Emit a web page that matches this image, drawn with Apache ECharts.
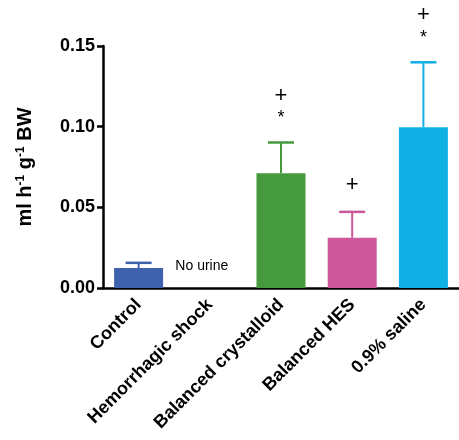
<!DOCTYPE html>
<html>
<head>
<meta charset="utf-8">
<script src="https://cdn.jsdelivr.net/npm/echarts@6/dist/echarts.min.js"></script>
<style>
  html, body { margin: 0; padding: 0; background: #fff; }
  #chart { width: 459px; height: 440px; }
</style>
</head>
<body>
<div id="chart"></div>
<script>
// Urine output per group
const groups = ['Control', 'Hemorrhagic shock', 'Balanced crystalloid', 'Balanced HES', '0.9% saline'];
const means = [0.0124, null, 0.0711, 0.0311, 0.0997];
const errTop = [0.0156, null, 0.0902, 0.0472, 0.1399];
const barColors = ['#3F61AE', '#FFFFFF', '#459A3E', '#CE5799', '#10B0E5'];
const plusMarks = ['', '', '+', '+', '+'];
const starMarks = ['', '', '*', '', '*'];
const emptyNote = ['', 'No urine', '', '', ''];
const yTicks = [0, 0.05, 0.10, 0.15];

const FONT = '"Liberation Sans", Arial, sans-serif';

const chart = echarts.init(document.getElementById('chart'));

chart.setOption({
  animation: false,
  backgroundColor: '#ffffff',
  grid: { left: 103, right: -9, top: 46, bottom: 152, containLabel: false },
  xAxis: {
    type: 'category',
    data: groups,
    axisLine: { lineStyle: { color: '#000', width: 2.5 } },
    axisTick: { alignWithLabel: true, length: 6, lineStyle: { color: '#000', width: 2.5 } },
    axisLabel: {
      rotate: 45, margin: 14, color: '#000',
      fontFamily: FONT, fontWeight: 'bold', fontSize: 18
    }
  },
  yAxis: {
    type: 'value',
    min: yTicks[0], max: yTicks[yTicks.length - 1], interval: 0.05,
    name: '{t|ml h}{s|-1}{t| g}{s|-1}{t| BW}',
    nameLocation: 'middle',
    nameRotate: 90,
    nameGap: 67,
    nameTextStyle: {
      rich: {
        t: { fontFamily: FONT, fontWeight: 'bold', fontSize: 20, color: '#000' },
        s: { fontFamily: FONT, fontWeight: 'bold', fontSize: 12, color: '#000', verticalAlign: 'top', padding: [0, 0, 9, 0] }
      }
    },
    splitLine: { show: false },
    axisLine: { show: true, lineStyle: { color: '#000', width: 2.5 } },
    axisTick: { show: true, length: 6, lineStyle: { color: '#000', width: 2.5 } },
    axisLabel: {
      margin: 8, color: '#000', fontFamily: FONT, fontWeight: 'bold', fontSize: 18,
      formatter: v => v.toFixed(2)
    }
  },
  series: [
    {
      type: 'bar',
      barWidth: 49,
      data: means.map((v, i) => ({ value: v, itemStyle: { color: barColors[i] } })),
      z: 2
    },
    {
      type: 'custom',
      z: 3,
      data: groups.map((g, i) => [i, means[i], errTop[i]]),
      renderItem: function (params, api) {
        const i = api.value(0);
        const children = [];
        const color = barColors[i];
        if (means[i] != null) {
          const base = api.coord([i, means[i]]);
          const top = api.coord([i, errTop[i]]);
          const half = 13;
          children.push({
            type: 'line', shape: { x1: base[0], y1: base[1], x2: top[0], y2: top[1] },
            style: { stroke: color, lineWidth: 2 }
          });
          children.push({
            type: 'line', shape: { x1: top[0] - half, y1: top[1], x2: top[0] + half, y2: top[1] },
            style: { stroke: color, lineWidth: 2.5 }
          });
          if (starMarks[i]) {
            children.push({
              type: 'text',
              style: { x: top[0], y: top[1] - 24, text: starMarks[i], fill: '#000',
                font: '18px ' + FONT, align: 'center', verticalAlign: 'middle' }
            });
          }
          if (plusMarks[i]) {
            const dy = starMarks[i] ? 47 : 27;
            children.push({
              type: 'text',
              style: { x: top[0], y: top[1] - dy, text: plusMarks[i], fill: '#000',
                font: '22px ' + FONT, align: 'center', verticalAlign: 'middle' }
            });
          }
        }
        if (emptyNote[i]) {
          const p = api.coord([i, 0]);
          children.push({
            type: 'text',
            style: { x: p[0] - 8, y: p[1] - 22, text: emptyNote[i], fill: '#000',
              font: '14px ' + FONT, align: 'center', verticalAlign: 'middle' }
          });
        }
        return { type: 'group', children: children };
      }
    }
  ]
});
</script>
</body>
</html>
